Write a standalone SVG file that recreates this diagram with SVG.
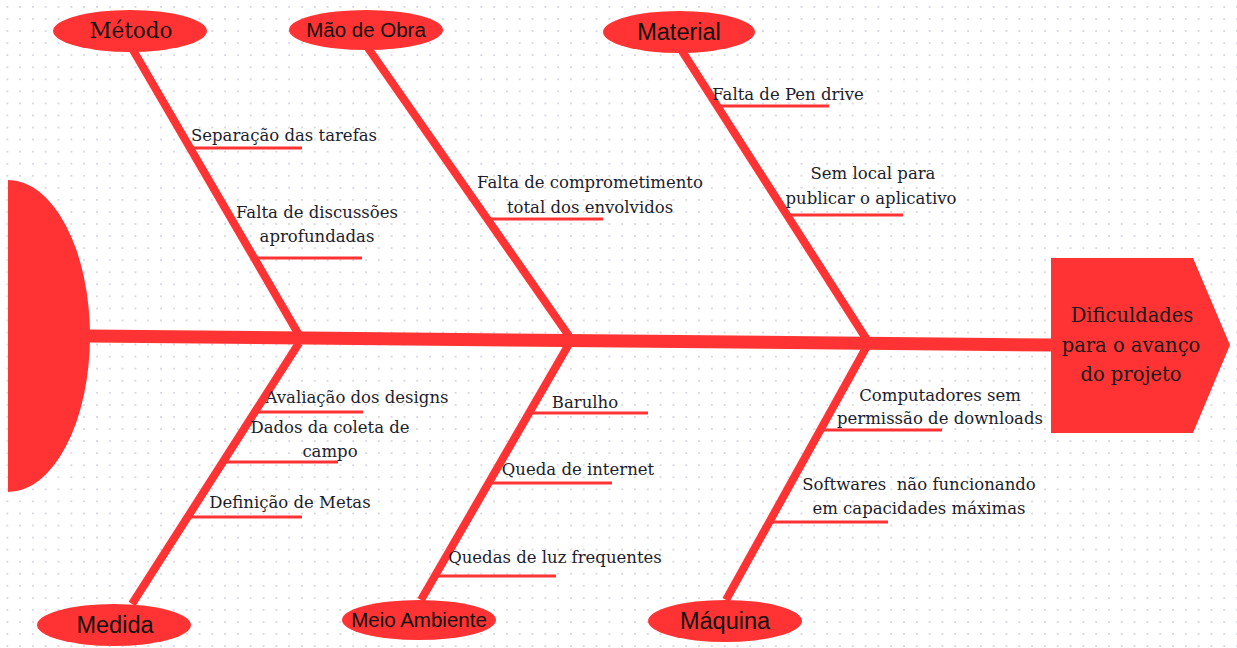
<svg xmlns="http://www.w3.org/2000/svg" width="1237" height="648" viewBox="0 0 1237 648">
<defs>
<pattern id="dots" x="6.3" y="6" width="12.81" height="12.06" patternUnits="userSpaceOnUse">
<circle cx="1" cy="1" r="0.9" fill="#c9c9d6"/>
</pattern>
<style>
.red{fill:#ff3333}
.bone{stroke:#ff3333;stroke-width:8;fill:none}
.spine{stroke:#ff3333;stroke-width:13;fill:none}
.sub{stroke:#ff3333;stroke-width:3;fill:none}
.lbl{font-family:"DejaVu Serif","Liberation Serif",serif;font-size:16.5px;fill:#1c1c2b;text-anchor:middle}
.cat{font-family:"Liberation Sans",Arial,sans-serif;fill:#111;text-anchor:middle}
.catserif{font-family:"DejaVu Serif","Liberation Serif",serif;fill:#111;text-anchor:middle}
.head{font-family:"DejaVu Serif","Liberation Serif",serif;font-size:19.5px;fill:#1a1a1a;text-anchor:middle}
</style>
</defs>
<rect width="1237" height="648" fill="#ffffff"/>
<rect width="1237" height="648" fill="url(#dots)"/>

<g id="connectors">
<line class="spine" x1="88" y1="336" x2="1053" y2="345"/>
<line class="bone" x1="133" y1="50" x2="299" y2="335"/>
<line class="bone" x1="368" y1="48" x2="569" y2="336"/>
<line class="bone" x1="682" y1="51" x2="867" y2="340"/>
<line class="bone" x1="299" y1="343" x2="132" y2="604"/>
<line class="bone" x1="569" y1="344" x2="421" y2="600"/>
<line class="bone" x1="867" y1="346" x2="726" y2="600"/>
<line class="sub" x1="190" y1="148" x2="302" y2="148"/>
<line class="sub" x1="256" y1="258" x2="362" y2="258"/>
<line class="sub" x1="490" y1="219" x2="603" y2="219"/>
<line class="sub" x1="715" y1="106" x2="829" y2="106"/>
<line class="sub" x1="788" y1="215" x2="903" y2="215"/>
<line class="sub" x1="255" y1="412" x2="363" y2="412"/>
<line class="sub" x1="223" y1="462" x2="338" y2="462"/>
<line class="sub" x1="188" y1="517" x2="302" y2="517"/>
<line class="sub" x1="531" y1="413" x2="648" y2="413"/>
<line class="sub" x1="490" y1="483" x2="612" y2="483"/>
<line class="sub" x1="436" y1="576" x2="556" y2="576"/>
<line class="sub" x1="822" y1="430" x2="942" y2="430"/>
<line class="sub" x1="772" y1="522" x2="888" y2="522"/>
</g>

<g id="tail">
<path class="red" d="M8,180 A82,156 0 0 1 8,492 Z"/>
</g>

<g id="head">
<polygon class="red" points="1051,258 1193,258 1230,345 1193,433 1051,433"/>
<text class="head" x="1132" y="322">Dificuldades</text>
<text class="head" x="1131" y="352">para o avanço</text>
<text class="head" x="1131" y="381">do projeto</text>
</g>

<g id="cat-metodo">
<ellipse class="red" cx="130" cy="31" rx="77" ry="21"/>
<text class="catserif" x="131" y="38" font-size="21.5">Método</text>
</g>
<g id="cat-maodeobra">
<ellipse class="red" cx="366" cy="30" rx="77" ry="20"/>
<text class="cat" x="366" y="37" font-size="20.5">Mão de Obra</text>
</g>
<g id="cat-material">
<ellipse class="red" cx="679" cy="32" rx="76" ry="21"/>
<text class="cat" x="679" y="40" font-size="23.5">Material</text>
</g>
<g id="cat-medida">
<ellipse class="red" cx="114" cy="625" rx="77" ry="21"/>
<text class="cat" x="115" y="633" font-size="23.5">Medida</text>
</g>
<g id="cat-meioambiente">
<ellipse class="red" cx="419" cy="620" rx="77" ry="20"/>
<text class="cat" x="419" y="627" font-size="20.5">Meio Ambiente</text>
</g>
<g id="cat-maquina">
<ellipse class="red" cx="725" cy="621" rx="77" ry="21"/>
<text class="cat" x="725" y="629" font-size="23.5">Máquina</text>
</g>

<g id="cause-separacao"><text class="lbl" x="284" y="141">Separação das tarefas</text></g>
<g id="cause-discussoes"><text class="lbl" x="317" y="218">Falta de discussões</text><text class="lbl" x="317" y="242">aprofundadas</text></g>
<g id="cause-comprometimento"><text class="lbl" x="590" y="188">Falta de comprometimento</text><text class="lbl" x="590" y="213">total dos envolvidos</text></g>
<g id="cause-pendrive"><text class="lbl" x="788" y="100">Falta de Pen drive</text></g>
<g id="cause-local"><text class="lbl" x="873" y="179">Sem local para</text><text class="lbl" x="871" y="204">publicar o aplicativo</text></g>
<g id="cause-avaliacao"><text class="lbl" x="357" y="403">Avaliação dos designs</text></g>
<g id="cause-dados"><text class="lbl" x="330" y="433">Dados da coleta de</text><text class="lbl" x="330" y="457">campo</text></g>
<g id="cause-metas"><text class="lbl" x="290" y="508">Definição de Metas</text></g>
<g id="cause-barulho"><text class="lbl" x="585" y="408">Barulho</text></g>
<g id="cause-internet"><text class="lbl" x="578" y="475">Queda de internet</text></g>
<g id="cause-luz"><text class="lbl" x="555" y="563">Quedas de luz frequentes</text></g>
<g id="cause-computadores"><text class="lbl" x="940" y="401">Computadores sem</text><text class="lbl" x="940" y="424">permissão de downloads</text></g>
<g id="cause-softwares"><text class="lbl" x="919" y="490" xml:space="preserve" style="white-space:pre">Softwares  não funcionando</text><text class="lbl" x="919" y="514">em capacidades máximas</text></g>
</svg>
